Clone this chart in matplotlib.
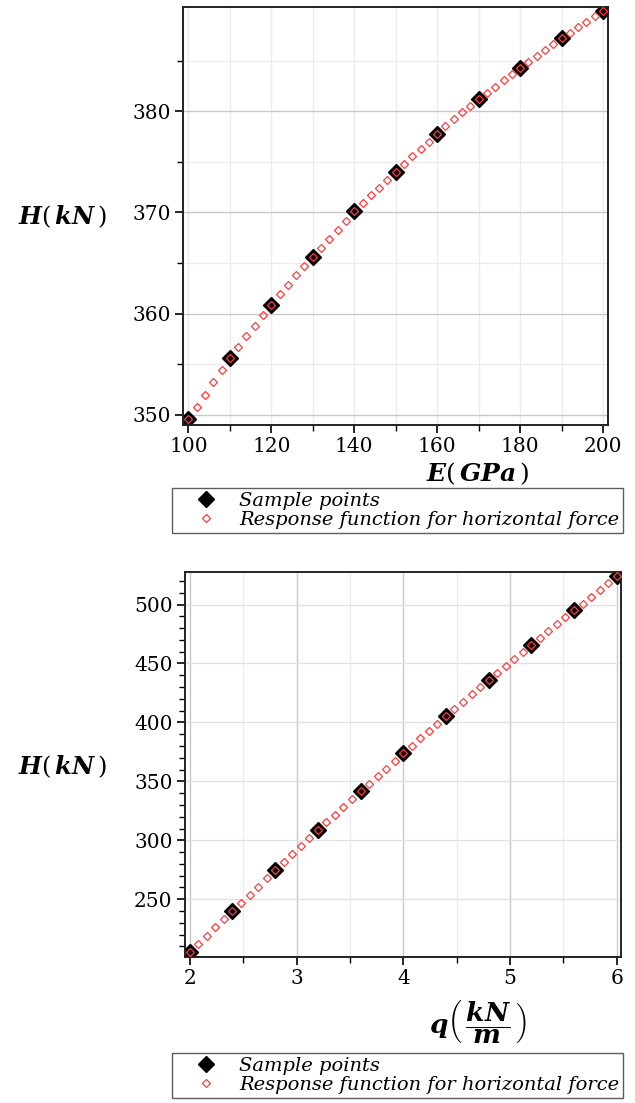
import matplotlib
matplotlib.use("Agg")
import matplotlib.pyplot as plt
from matplotlib.ticker import MultipleLocator, FixedLocator

plt.rcParams['mathtext.fontset'] = 'custom'
plt.rcParams['mathtext.bf'] = 'DejaVu Serif:bold:italic'
plt.rcParams['mathtext.rm'] = 'DejaVu Serif'
plt.rcParams['mathtext.it'] = 'DejaVu Serif:italic'

# 样本点与响应函数 (E)
E_samples = [100, 110, 120, 130, 140, 150, 160, 170, 180, 190, 200]
H_E_samples = [349.6, 355.6, 360.9, 365.6, 370.1, 374.0, 377.8, 381.2, 384.3, 387.2, 389.9]
E_grid = list(range(100, 201, 2))
H_E_resp = [349.6, 350.8, 352.0, 353.2, 354.4, 355.6,
            356.7, 357.8, 358.8, 359.9, 360.9,
            361.9, 362.8, 363.8, 364.7, 365.6,
            366.5, 367.4, 368.3, 369.2, 370.1,
            370.9, 371.7, 372.4, 373.2, 374.0,
            374.8, 375.6, 376.3, 377.0, 377.8,
            378.5, 379.2, 379.9, 380.5, 381.2,
            381.8, 382.4, 383.1, 383.7, 384.3,
            384.9, 385.5, 386.1, 386.6, 387.2,
            387.7, 388.3, 388.8, 389.4, 389.9]

# 样本点与响应函数 (q)
q_samples = [2.0, 2.4, 2.8, 3.2, 3.6, 4.0, 4.4, 4.8, 5.2, 5.6, 6.0]
H_q_samples = [205.0, 240.0, 274.5, 308.5, 341.5, 373.8, 405.3, 436.0, 465.8, 495.0, 524.0]
q_grid = [round(2 + 0.08 * i, 2) for i in range(51)]
H_q_resp = [205.0, 212.1, 219.1, 226.1, 233.0, 240.0,
            246.9, 253.8, 260.7, 267.6, 274.5,
            281.3, 288.1, 294.9, 301.7, 308.5,
            315.1, 321.7, 328.3, 334.9, 341.5,
            348.0, 354.4, 360.9, 367.3, 373.8,
            380.1, 386.4, 392.7, 399.0, 405.3,
            411.4, 417.6, 423.7, 429.9, 436.0,
            442.0, 447.9, 453.9, 459.8, 465.8,
            471.6, 477.5, 483.3, 489.2, 495.0,
            500.8, 506.6, 512.4, 518.2, 524.0]

W, H = 635, 1103
fig = plt.figure(figsize=(W / 100, H / 100), dpi=100)


def px_axes(l, t, r, b):
    return fig.add_axes([l / W, 1 - b / H, (r - l) / W, (b - t) / H])


def style(ax):
    for s in ax.spines.values():
        s.set_linewidth(1.4)
        s.set_color('#222222')
    ax.tick_params(which='major', direction='out', length=6, width=1.2,
                   labelsize=14.5, pad=3)
    ax.tick_params(which='minor', direction='out', length=4, width=1.0)
    for lab in ax.get_xticklabels() + ax.get_yticklabels():
        lab.set_family('DejaVu Serif')
    ax.set_axisbelow(True)


def draw(ax, xs, ys, xg, yg):
    ax.plot(xg, yg, linestyle='none', marker='D', markersize=4,
            markerfacecolor='none', markeredgecolor='#ff3b3b',
            markeredgewidth=0.9, label='Response function for horizontal force', zorder=3)
    ax.plot(xs, ys, linestyle='none', marker='D', markersize=8,
            color='black', label='Sample points', zorder=2)


# 上图
ax1 = px_axes(183, 7, 608, 425)
draw(ax1, E_samples, H_E_samples, E_grid, H_E_resp)
ax1.set_xlim(98.7, 201.2)
ax1.set_ylim(349.0, 390.3)
ax1.xaxis.set_major_locator(MultipleLocator(20))
ax1.xaxis.set_minor_locator(MultipleLocator(10))
ax1.yaxis.set_major_locator(FixedLocator([350, 360, 370, 380]))
ax1.yaxis.set_minor_locator(FixedLocator([355, 365, 375, 385]))
ax1.grid(True, which='major', axis='y', color='#c8c8c8', linewidth=1.0)
ax1.grid(True, which='minor', axis='y', color='#ececec', linewidth=1.0)
ax1.grid(True, which='both', axis='x', color='#ececec', linewidth=1.0)
style(ax1)
fig.text(18 / W, 1 - 217 / H, r'$\mathbf{H}(\,\mathbf{kN}\,)$', fontsize=17.5,
         va='center', ha='left')
fig.text(478 / W, 1 - 474 / H, r'$\mathbf{E}(\,\mathbf{GPa}\,)$', fontsize=18,
         va='center', ha='center')

# 下图
ax2 = px_axes(185, 572, 621, 957)
draw(ax2, q_samples, H_q_samples, q_grid, H_q_resp)
ax2.set_xlim(1.955, 6.04)
ax2.set_ylim(201.0, 527.6)
ax2.xaxis.set_major_locator(MultipleLocator(1))
ax2.xaxis.set_minor_locator(MultipleLocator(0.5))
ax2.yaxis.set_major_locator(FixedLocator([250, 300, 350, 400, 450, 500]))
ax2.yaxis.set_minor_locator(MultipleLocator(10))
ax2.grid(True, which='major', axis='x', color='#c8c8c8', linewidth=1.0)
ax2.grid(True, which='minor', axis='x', color='#ececec', linewidth=1.0)
ax2.grid(True, which='major', axis='y', color='#e2e2e2', linewidth=1.0)
style(ax2)
fig.text(18 / W, 1 - 767 / H, r'$\mathbf{H}(\,\mathbf{kN}\,)$', fontsize=17.5,
         va='center', ha='left')
fig.text(478 / W, 1 - 1022 / H, r'$\mathbf{q}\left(\,\dfrac{\mathbf{kN}}{\mathbf{m}}\,\right)$',
         fontsize=19, va='center', ha='center')

# 图例
for ax, top in ((ax1, 488), (ax2, 1053)):
    handles, labels = ax.get_legend_handles_labels()
    leg = fig.legend(handles[::-1], labels[::-1], loc='upper left',
                     bbox_to_anchor=(172 / W, 1 - top / H), bbox_transform=fig.transFigure,
                     prop={'family': 'DejaVu Serif', 'style': 'italic', 'size': 14},
                     frameon=True, fancybox=False, borderpad=0.2, labelspacing=0.05,
                     handletextpad=0.15, handlelength=3.1, borderaxespad=0)
    leg.get_frame().set_edgecolor('#333333')
    leg.get_frame().set_linewidth(1.0)

fig.savefig('out.png', dpi=100)
